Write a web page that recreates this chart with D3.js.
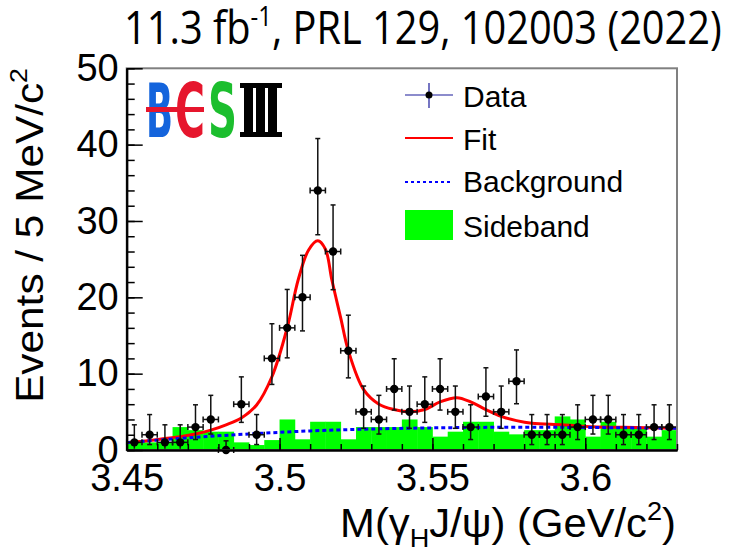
<!DOCTYPE html>
<html>
<head>
<meta charset="utf-8">
<script src="https://cdn.jsdelivr.net/npm/d3@7"></script>
<style>
  body { margin: 0; background: #fff; }
  svg { display: block; }
</style>
</head>
<body>
<svg width="729" height="553"></svg>
<script>
// M(gamma_H J/psi) spectrum, 5 MeV bins starting at 3.45 GeV
const binLow = 3.45, binWidth = 0.005;
const dataCounts = [1,2,1,1,3,4,0,6,2,12,16,20,34,26,13,5,4,8,5,6,8,5,3,7,5,9,2,2,2,3,4,4,2,2,3,3];
// error bar ends
const errLow  = [0.17,0.71,0.17,0.17,1.37,2.09,0,3.62,0.71,8.59,12.07,15.6,28.2,21.0,9.45,2.84,2.09,5.23,2.84,3.62,5.23,2.84,1.37,4.42,2.84,6.06,0.71,0.71,0.71,1.37,2.09,2.09,0.71,0.71,1.37,1.37];
const errHigh = [3.3,4.64,3.3,3.3,5.92,7.16,1.2,9.58,4.64,16.54,21.03,25.5,40.8,32.1,17.66,8.38,7.16,11.95,8.38,9.58,11.95,8.38,5.92,10.77,8.38,13.11,4.64,4.64,4.64,5.92,7.16,7.16,4.64,4.64,5.92,5.92];
// sideband histogram
const sideband = [1.0,1.0,1.0,3.0,2.6,2.4,2.4,1.0,0.65,1.3,4.0,1.4,3.7,3.7,1.4,3.0,3.0,3.0,4.0,3.0,1.75,2.4,3.7,3.7,2.4,2.05,2.6,2.6,4.4,4.0,1.75,3.7,3.0,3.0,1.75,2.6];
// fit curve samples
const fitX = [3.45,3.4575,3.4625,3.4675,3.4725,3.4775,3.4825,3.4875,3.4925,3.4975,3.5025,3.5061,3.5095,3.5125,3.515,3.5171,3.52,3.5225,3.5275,3.5325,3.5375,3.5425,3.5475,3.5525,3.558,3.5625,3.5675,3.5725,3.5775,3.5825,3.5925,3.6025,3.6125,3.63];
const fitY = [0.96,1.25,1.5,1.75,2.1,2.6,3.3,4.2,5.9,9.6,16,22.3,26.2,27.4,26.3,22.3,17.3,13,7.9,6.0,5.3,5.0,5.3,6.3,6.85,6.3,5.3,4.4,3.85,3.5,3.3,3.05,2.97,2.84];
// background curve samples
const bgX = [3.45,3.47,3.49,3.51,3.53,3.55,3.57,3.59,3.61,3.63];
const bgY = [0.96,1.6,2.1,2.5,2.75,2.9,2.97,2.97,2.92,2.84];
// axes
const xTicks = [3.45,3.5,3.55,3.6];
const xMinorTicks = d3.range(3.45, 3.6301, 0.01);
const yTicks = [0,10,20,30,40,50];
const yMinorTicks = d3.range(0, 51, 2);

const svg = d3.select("svg");
const font = "'Liberation Sans', Arial, Helvetica, sans-serif";

const x = d3.scaleLinear().domain([3.45, 3.63]).range([126.7, 677]);
const y = d3.scaleLinear().domain([0, 50]).range([450, 68.3]);
const [x0, x1] = x.range(), [y0, y1] = y.range();

svg.append("defs").append("clipPath").attr("id", "plot")
  .append("rect").attr("x", x0).attr("y", y1).attr("width", x1 - x0).attr("height", y0 - y1);

// scale a text node horizontally so it spans w pixels
function fitText(sel, w) {
  const len = sel.node().getComputedTextLength();
  const t = sel.attr("transform") || "";
  sel.attr("transform", t + ` scale(${w / len},1)`);
}

// sideband histogram
svg.append("g").selectAll("rect")
  .data(sideband)
  .join("rect")
  .attr("x", (d, i) => x(binLow + i * binWidth))
  .attr("width", (d, i) => x(binLow + (i + 1) * binWidth) - x(binLow + i * binWidth) + 0.4)
  .attr("y", d => y(d))
  .attr("height", d => y(0) - y(d))
  .attr("fill", "#00ff00");

const plot = svg.append("g").attr("clip-path", "url(#plot)");

// fit + background
const line = d3.line().x(d => x(d[0])).y(d => y(d[1])).curve(d3.curveCatmullRom);
plot.append("path")
  .attr("d", line(fitX.map((v, i) => [v, fitY[i]])))
  .attr("fill", "none").attr("stroke", "#ff0000").attr("stroke-width", 3);
plot.append("path")
  .attr("d", line(bgX.map((v, i) => [v, bgY[i]])))
  .attr("fill", "none").attr("stroke", "#0000ff").attr("stroke-width", 3)
  .attr("stroke-dasharray", "4,3");

// data points with error bars
const pts = svg.append("g").selectAll("g")
  .data(dataCounts.map((c, i) => ({c, lo: errLow[i], hi: errHigh[i], xc: binLow + (i + 0.5) * binWidth})))
  .join("g")
  .attr("stroke", "#111").attr("stroke-width", 1.5);
const hw = (x(binWidth) - x(0)) / 2;
pts.append("line").attr("x1", d => x(d.xc)).attr("x2", d => x(d.xc)).attr("y1", d => y(d.lo)).attr("y2", d => y(d.hi));
pts.append("line").attr("x1", d => x(d.xc) - hw).attr("x2", d => x(d.xc) + hw).attr("y1", d => y(d.c)).attr("y2", d => y(d.c));
pts.append("line").attr("x1", d => x(d.xc) - 2.5).attr("x2", d => x(d.xc) + 2.5).attr("y1", d => y(d.hi)).attr("y2", d => y(d.hi));
pts.filter(d => d.lo > 0.3).append("line").attr("x1", d => x(d.xc) - 2.5).attr("x2", d => x(d.xc) + 2.5).attr("y1", d => y(d.lo)).attr("y2", d => y(d.lo));
pts.append("line").attr("x1", d => x(d.xc) - hw).attr("x2", d => x(d.xc) - hw).attr("y1", d => y(d.c) - 3).attr("y2", d => y(d.c) + 3);
pts.append("line").attr("x1", d => x(d.xc) + hw).attr("x2", d => x(d.xc) + hw).attr("y1", d => y(d.c) - 3).attr("y2", d => y(d.c) + 3);
pts.append("circle").attr("cx", d => x(d.xc)).attr("cy", d => y(d.c)).attr("r", 4.2)
  .attr("fill", "#000").attr("stroke", "none");

// frame
svg.append("rect").attr("x", x0).attr("y", y1).attr("width", x1 - x0).attr("height", y0 - y1)
  .attr("fill", "none").attr("stroke", "#808080").attr("stroke-width", 2);

// axes
function styleAxis(g) {
  g.attr("font-family", font).attr("font-size", 38);
  g.selectAll("line").attr("stroke", "#000").attr("stroke-width", 1.5);
  g.selectAll("path").attr("stroke", "#000").attr("stroke-width", 2);
  g.selectAll("text").attr("fill", "#000");
}
svg.append("g").attr("transform", `translate(0,${y0})`)
  .call(d3.axisBottom(x).tickValues(xMinorTicks).tickSize(-6).tickSizeOuter(0).tickFormat(""))
  .call(styleAxis);
svg.append("g").attr("transform", `translate(0,${y0})`)
  .call(d3.axisBottom(x).tickValues(xTicks).tickSize(-12).tickSizeOuter(0).tickPadding(14).tickFormat(d3.format("")))
  .call(styleAxis);
svg.append("g").attr("transform", `translate(${x0},0)`)
  .call(d3.axisLeft(y).tickValues(yMinorTicks).tickSize(-8).tickSizeOuter(0).tickFormat(""))
  .call(styleAxis);
svg.append("g").attr("transform", `translate(${x0},0)`)
  .call(d3.axisLeft(y).tickValues(yTicks).tickSize(-16).tickSizeOuter(0).tickPadding(8).tickFormat(d3.format("d")))
  .call(styleAxis);

// axis titles
const yt = svg.append("text").attr("transform", "translate(43,68) rotate(-90)")
  .attr("text-anchor", "end").attr("font-family", font).attr("font-size", 38);
yt.append("tspan").text("Events / 5 MeV/c");
yt.append("tspan").attr("font-size", 24).attr("dy", -16).text("2");
fitText(yt, 335);

const xt = svg.append("text").attr("transform", "translate(676,537)")
  .attr("text-anchor", "end").attr("font-family", font).attr("font-size", 40);
xt.append("tspan").text("M(γ");
xt.append("tspan").attr("font-size", 26).attr("dy", 10).text("H");
xt.append("tspan").attr("dy", -10).text("J/ψ) (GeV/c");
xt.append("tspan").attr("font-size", 26).attr("dy", -17).text("2");
xt.append("tspan").attr("dy", 17).text(")");
fitText(xt, 336);

// title
const tt = svg.append("text").attr("transform", "translate(124,44)")
  .attr("font-family", "'Open Sans', sans-serif").attr("font-size", 45);
tt.append("tspan").text("11.3 fb");
tt.append("tspan").attr("font-size", 27).attr("dy", -18).text("-1");
tt.append("tspan").attr("dy", 18).text(", PRL 129, 102003 (2022)");
fitText(tt, 598);

// legend
const lg = svg.append("g").attr("font-family", font).attr("font-size", 30);
lg.append("line").attr("x1", 405).attr("x2", 453).attr("y1", 95).attr("y2", 95).attr("stroke", "#1a1a9a").attr("stroke-width", 1.2);
lg.append("line").attr("x1", 429).attr("x2", 429).attr("y1", 83).attr("y2", 108).attr("stroke", "#1a1a9a").attr("stroke-width", 1.2);
lg.append("circle").attr("cx", 429).attr("cy", 95).attr("r", 3.5);
lg.append("line").attr("x1", 405).attr("x2", 453).attr("y1", 138).attr("y2", 138).attr("stroke", "#ff0000").attr("stroke-width", 2);
lg.append("line").attr("x1", 405).attr("x2", 453).attr("y1", 182).attr("y2", 182).attr("stroke", "#0000ff").attr("stroke-width", 2).attr("stroke-dasharray", "3,3");
lg.append("rect").attr("x", 405).attr("y", 210).attr("width", 48).attr("height", 30).attr("fill", "#00ff00");
const legendLabels = ["Data", "Fit", "Background", "Sideband"];
const legendBase = [107, 150, 192, 237];
lg.selectAll("text.lab").data(legendLabels).join("text").attr("class", "lab")
  .attr("x", 463).attr("y", (d, i) => legendBase[i]).text(d => d);

// BESIII logo
const logo = svg.append("g").attr("font-family", "'DejaVu Sans', sans-serif").attr("font-weight", "bold").attr("font-size", 74);
logo.append("text").attr("x", 146).attr("y", 137).attr("textLength", 27).attr("lengthAdjust", "spacingAndGlyphs").attr("fill", "#1464dc").text("B");
logo.append("text").attr("x", 175).attr("y", 137).attr("textLength", 30).attr("lengthAdjust", "spacingAndGlyphs").attr("fill", "#e6162d").text("C");
logo.append("rect").attr("x", 146).attr("y", 107).attr("width", 58).attr("height", 5).attr("fill", "#e6162d");
logo.append("text").attr("x", 208).attr("y", 137).attr("textLength", 29).attr("lengthAdjust", "spacingAndGlyphs").attr("fill", "#1cbe2e").text("S");
const iii = logo.append("g").attr("fill", "#000");
iii.append("rect").attr("x", 240).attr("y", 83).attr("width", 42).attr("height", 5);
iii.append("rect").attr("x", 240).attr("y", 132).attr("width", 42).attr("height", 5);
[244, 256, 268].forEach(px => iii.append("rect").attr("x", px).attr("y", 83).attr("width", 9).attr("height", 54));
</script>
</body>
</html>
